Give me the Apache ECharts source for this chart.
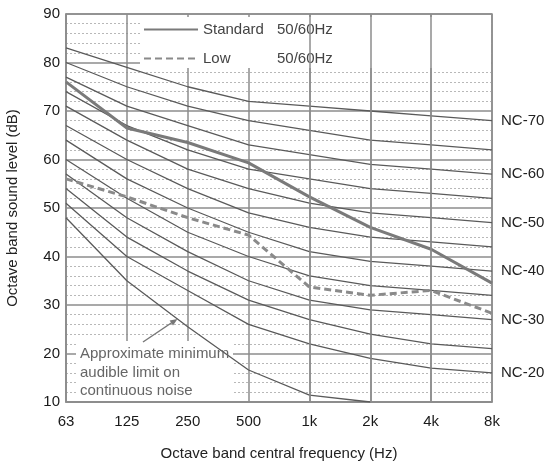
<!DOCTYPE html>
<html>
<head>
<meta charset="utf-8">
<script src="https://cdn.jsdelivr.net/npm/echarts@6/dist/echarts.min.js"></script>
<style>
  html, body { margin: 0; padding: 0; background: #fff; }
  #chart { width: 549px; height: 463px; }
</style>
</head>
<body>
<div id="chart"></div>
<script>
// Octave band centre frequencies
const freqLabels = ['63', '125', '250', '500', '1k', '2k', '4k', '8k'];

// NC (noise criteria) curves, dB per octave band
const nc20 = [51, 40, 33, 26, 22, 19, 17, 16];
const nc25 = [54, 44, 37, 31, 27, 24, 22, 21];
const nc30 = [57, 48, 41, 35, 31, 29, 28, 27];
const nc35 = [60, 52, 45, 40, 36, 34, 33, 32];
const nc40 = [64, 56, 50, 45, 41, 39, 38, 37];
const nc45 = [67, 60, 54, 49, 46, 44, 43, 42];
const nc50 = [71, 64, 58, 54, 51, 49, 48, 47];
const nc55 = [74, 67, 62, 58, 56, 54, 53, 52];
const nc60 = [77, 71, 67, 63, 61, 59, 58, 57];
const nc65 = [80, 75, 71, 68, 66, 64, 63, 62];
const nc70 = [83, 79, 75, 72, 71, 70, 69, 68];

// Approximate minimum audible limit on continuous noise
const audibleLimit = [48, 35, 25.5, 16.6, 11.4, 10];

// Measured unit spectra
const standardLevels = [76, 66.5, 63.5, 59.3, 52.3, 46, 41.5, 34.5];
const lowLevels = [56, 52.3, 48, 44.4, 33.7, 32, 33, 28.3];

const seriesNames = ['Standard', 'Low'];
const supplyLabel = '50/60Hz';
const annotationLines = ['Approximate minimum', 'audible limit on', 'continuous noise'];

const ncCurves = [
  [20, nc20, true], [25, nc25, false], [30, nc30, true], [35, nc35, false],
  [40, nc40, true], [45, nc45, false], [50, nc50, true], [55, nc55, false],
  [60, nc60, true], [65, nc65, false], [70, nc70, true]
];

const FONT = '"Liberation Sans", Arial, Helvetica, sans-serif';
const gridColor = '#8c8c8c';
const curveColor = '#5a5a5a';

const chart = echarts.init(document.getElementById('chart'), null, { renderer: 'canvas' });

const series = ncCurves.map(([level, values, labelled]) => ({
  name: 'NC-' + level,
  type: 'line',
  data: values,
  symbol: 'none',
  z: 2,
  lineStyle: { color: curveColor, width: 1.3 },
  endLabel: {
    show: labelled,
    formatter: 'NC-' + level,
    distance: 9,
    color: '#222',
    fontSize: 15,
    fontFamily: FONT
  }
}));

series.push({
  name: 'audible',
  type: 'line',
  data: audibleLimit,
  symbol: 'none',
  z: 1,
  lineStyle: { color: curveColor, width: 1.3 },
  // blank panel behind the legend (covers the grid lines there)
  markArea: {
    silent: true,
    itemStyle: { color: '#fff', opacity: 1, borderWidth: 0 },
    label: { show: false },
    data: [[{ x: 140, y: 17 }, { x: 491, y: 68 }]]
  }
});

series.push({
  name: seriesNames[0],
  type: 'line',
  data: standardLevels,
  symbol: 'none',
  z: 3,
  lineStyle: { color: '#7a7a7a', width: 3 },
  itemStyle: { color: '#7a7a7a' },
  // octave grid lines that continue through the legend panel
  markLine: {
    silent: true,
    symbol: 'none',
    label: { show: false },
    lineStyle: { color: gridColor, width: 1.5, type: 'solid' },
    data: [{ xAxis: '1k' }, { xAxis: '2k' }, { xAxis: '4k' }]
  }
});

series.push({
  name: seriesNames[1],
  type: 'line',
  data: lowLevels,
  symbol: 'none',
  z: 3,
  lineStyle: { color: '#8a8a8a', width: 3, type: [7, 4] },
  itemStyle: { color: '#8a8a8a' },
  // blank panel under the annotation text
  markArea: {
    silent: true,
    itemStyle: { color: '#fff', opacity: 1, borderWidth: 0 },
    label: { show: false },
    data: [[{ x: 76, y: 341 }, { x: 233, y: 401 }]]
  }
});

chart.setOption({
  animation: false,
  backgroundColor: '#fff',
  textStyle: { fontFamily: FONT },
  grid: {
    left: 66, right: 57, top: 14, bottom: 61,
    outerBoundsMode: 'none',
    containLabel: false,
    show: true, borderColor: gridColor, borderWidth: 1.5
  },
  legend: {
    data: seriesNames,
    orient: 'vertical',
    left: 138,
    top: 17,
    itemWidth: 54,
    itemHeight: 14,
    itemGap: 14,
    itemStyle: { color: 'rgba(0,0,0,0)', borderColor: 'rgba(0,0,0,0)', borderWidth: 0 },
    formatter: name => '{n|' + name + '}{f|' + supplyLabel + '}',
    textStyle: {
      rich: {
        n: { width: 74, fontSize: 15, color: '#444', fontFamily: FONT },
        f: { fontSize: 15, color: '#444', fontFamily: FONT }
      }
    }
  },
  xAxis: {
    type: 'category',
    data: freqLabels,
    boundaryGap: false,
    name: 'Octave band central frequency (Hz)',
    nameLocation: 'middle',
    nameGap: 44,
    nameTextStyle: { fontSize: 15, color: '#222', fontFamily: FONT },
    axisLine: { lineStyle: { color: gridColor, width: 1.5 } },
    axisTick: { show: false },
    axisLabel: { fontSize: 15, color: '#1a1a1a', margin: 12, fontFamily: FONT },
    splitLine: { show: true, lineStyle: { color: gridColor, width: 1.5 } }
  },
  yAxis: {
    type: 'value',
    min: 10,
    max: 90,
    interval: 10,
    name: 'Octave band sound level (dB)',
    nameLocation: 'middle',
    nameGap: 46,
    nameTextStyle: { fontSize: 15, color: '#222', fontFamily: FONT },
    axisLine: { show: true, lineStyle: { color: gridColor, width: 1.5 } },
    axisTick: { show: false },
    minorTick: { show: false, splitNumber: 5 },
    axisLabel: { fontSize: 15, color: '#1a1a1a', margin: 6, fontFamily: FONT },
    splitLine: { show: true, lineStyle: { color: gridColor, width: 1.5 } },
    minorSplitLine: { show: true, lineStyle: { color: '#b8b8b8', width: 1, type: [2, 2] } }
  },
  graphic: [
    { type: 'text', z: 10, silent: true, left: 80, top: 345,
      style: { text: annotationLines.join('\n'), fontSize: 15, lineHeight: 18.5,
               fill: '#666', fontFamily: FONT } },
    // arrow pointing to the audible-limit curve
    { type: 'line', z: 10, silent: true,
      shape: { x1: 143, y1: 342, x2: 172, y2: 322.5 },
      style: { stroke: '#777', lineWidth: 1.5 } },
    { type: 'polygon', z: 10, silent: true,
      shape: { points: [[177.5, 319], [173, 325.6], [169.6, 320.4]] },
      style: { fill: '#777' } }
  ],
  series: series
});
</script>
</body>
</html>
